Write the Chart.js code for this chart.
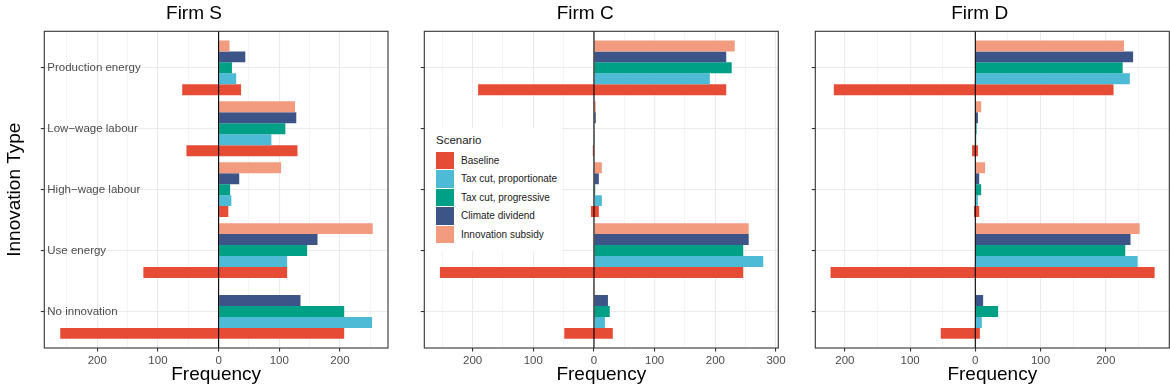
<!DOCTYPE html>
<html>
<head>
<meta charset="utf-8">
<script src="https://cdn.jsdelivr.net/npm/chart.js@4.4.1/dist/chart.umd.min.js"></script>
<style>
  body { margin: 0; background: #fff; }
  #wrap { position: relative; width: 1170px; height: 390px; overflow: hidden; font-family: "Liberation Sans", Arial, sans-serif; }
  #wrap canvas { position: absolute; top: 0; }
  #legend { position: absolute; left: 427px; top: 128px; width: 135px; height: 123px; background: #fff; z-index: 2; }
  #legend .ttl { position: absolute; left: 9px; top: 6px; font-size: 11.5px; color: #1a1a1a; }
  #legend .key { position: absolute; left: 9px; width: 18px; height: 17.6px; }
  #legend .lab { position: absolute; left: 34px; font-size: 10px; color: #1a1a1a; line-height: 18px; white-space: nowrap; }
</style>
</head>
<body>
<div id="wrap">
  <canvas id="firmS" width="392" height="390" style="left:0px"></canvas>
  <canvas id="firmC" width="398" height="390" style="left:392px"></canvas>
  <canvas id="firmD" width="380" height="390" style="left:790px"></canvas>
  <div id="legend"></div>
</div>
<script>
// categories, top to bottom
const categories = ['Production energy', 'Low\u2212wage labour', 'High\u2212wage labour', 'Use energy', 'No innovation'];
const scenarios = ['Baseline', 'Tax cut, proportionate', 'Tax cut, progressive', 'Climate dividend', 'Innovation subsidy'];
const scenarioColors = ['#E64B35', '#4DBBD5', '#00A087', '#3C5488', '#F39B7F'];

// Firm S
const sBaselineLeft = [-60, -53, 0, -124, -261];
const sBaseline = [37, 130, 16, 113, 207];
const sTaxProp = [29, 87, 21, 113, 253];
const sTaxProg = [22, 110, 19, 146, 207];
const sClimate = [44, 128, 34, 163, 135];
const sSubsidy = [18, 126, 103, 254, 0];

// Firm C
const cBaselineLeft = [-191, -2, -5, -254, -49];
const cBaseline = [218, 0, 8, 246, 31];
const cTaxProp = [191, 0.5, 13, 279, 18];
const cTaxProg = [227, 1, 2, 246, 26];
const cClimate = [218, 3, 8, 255, 23];
const cSubsidy = [232, 3, 13, 255, 0.5];

// Firm D
const dBaselineLeft = [-217, -5, -2, -222, -53];
const dBaseline = [212, 4, 6, 275, 7];
const dTaxProp = [237, 1.5, 4, 249, 10];
const dTaxProg = [226, 2, 9, 230, 35];
const dClimate = [242, 4, 6, 238, 12];
const dSubsidy = [228, 9, 15, 252, 0];

Chart.defaults.font.family = '"Liberation Sans", Arial, sans-serif';

// frame + zero line drawn over the bars
const panelDeco = {
  id: 'panelDeco',
  afterDatasetsDraw(chart) {
    const { ctx, chartArea: a, scales } = chart;
    const x0 = scales.x.getPixelForValue(0);
    ctx.save();
    ctx.strokeStyle = '#000';
    ctx.lineWidth = 1.1;
    ctx.beginPath();
    ctx.moveTo(x0, a.top);
    ctx.lineTo(x0, a.bottom);
    ctx.stroke();
    ctx.strokeStyle = '#333';
    ctx.lineWidth = 1.1;
    ctx.strokeRect(a.left, a.top, a.right - a.left, a.bottom - a.top);
    ctx.restore();
  }
};

function bars(values) {
  return values.map((v, i) => ({ x: v, y: i }));
}

function makePanel(id, title, s, opt) {
  // dataset order = top to bottom inside a group
  const datasets = [
    { label: scenarios[4], data: bars(s.subsidy), backgroundColor: scenarioColors[4] },
    { label: scenarios[3], data: bars(s.climate), backgroundColor: scenarioColors[3] },
    { label: scenarios[2], data: bars(s.taxProg), backgroundColor: scenarioColors[2] },
    { label: scenarios[1], data: bars(s.taxProp), backgroundColor: scenarioColors[1] },
    { label: scenarios[0], data: s.baseline.map((v, i) => ({ x: [s.baselineLeft[i], v], y: i })), backgroundColor: scenarioColors[0] }
  ];
  return new Chart(document.getElementById(id), {
    type: 'bar',
    data: { datasets },
    plugins: [panelDeco],
    options: {
      indexAxis: 'y',
      responsive: false,
      animation: false,
      devicePixelRatio: 1,
      layout: { padding: { left: 0, right: opt.padRight, top: 0, bottom: 0 } },
      datasets: { bar: { categoryPercentage: 0.9, barPercentage: 1, borderWidth: 0 } },
      plugins: {
        legend: { display: false },
        tooltip: { enabled: false },
        title: {
          display: true, text: title, color: '#000',
          font: { size: 19, weight: 'normal' },
          padding: { top: 2.7, bottom: 5.8 }
        }
      },
      scales: {
        x: {
          type: 'linear', min: opt.min, max: opt.max,
          afterBuildTicks(scale) {
            const t = [];
            for (let v = Math.ceil(opt.min / 50) * 50; v <= opt.max; v += 50) t.push({ value: v });
            scale.ticks = t;
          },
          afterFit(scale) { scale.height = 42; },
          ticks: {
            autoSkip: false, maxRotation: 0, padding: 2, color: '#4D4D4D',
            font: { size: 11.5 },
            callback: (v) => (v % 100 === 0 ? String(Math.abs(v)) : '')
          },
          grid: {
            color: '#EBEBEB',
            lineWidth: (c) => (c.tick && c.tick.value % 100 === 0 ? 1.1 : 0.55),
            tickColor: (c) => (c.tick && c.tick.value % 100 === 0 ? '#333' : 'rgba(0,0,0,0)'),
            tickLength: 3.5, tickWidth: 1.1
          },
          border: { display: false },
          title: {
            display: true, text: 'Frequency', color: '#000',
            font: { size: 19 }, padding: { top: 0, bottom: 4.2 }
          }
        },
        y: {
          type: 'linear', min: -0.6, max: 4.6, reverse: true, offset: false,
          afterBuildTicks(scale) { scale.ticks = categories.map((c, i) => ({ value: i })); },
          afterFit(scale) { scale.width = opt.yWidth; },
          ticks: {
            display: opt.labels, mirror: true, padding: 3, color: '#4D4D4D',
            font: { size: 11.5 },
            callback: (v) => categories[v]
          },
          grid: { offset: false, color: '#EBEBEB', lineWidth: 1.1, tickColor: '#333', tickLength: 3.5, tickWidth: 1.1 },
          border: { display: false },
          title: {
            display: opt.labels, text: 'Innovation Type', color: '#000',
            font: { size: 19 }, padding: { top: 3 }
          }
        }
      }
    }
  });
}

makePanel('firmS', 'Firm S',
  { baselineLeft: sBaselineLeft, baseline: sBaseline, taxProp: sTaxProp, taxProg: sTaxProg, climate: sClimate, subsidy: sSubsidy },
  { min: -287.3, max: 279.2, yWidth: 44.3, padRight: 4, labels: true });
makePanel('firmC', 'Firm C',
  { baselineLeft: cBaselineLeft, baseline: cBaseline, taxProp: cTaxProp, taxProg: cTaxProg, climate: cClimate, subsidy: cSubsidy },
  { min: -279.7, max: 303.8, yWidth: 32.3, padRight: 11.7, labels: false });
makePanel('firmD', 'Firm D',
  { baselineLeft: dBaselineLeft, baseline: dBaseline, taxProp: dTaxProp, taxProg: dTaxProg, climate: dClimate, subsidy: dSubsidy },
  { min: -245.4, max: 297.5, yWidth: 25.3, padRight: 0.7, labels: false });

// legend inside Firm C panel
const legend = document.getElementById('legend');
legend.innerHTML = '<div class="ttl">Scenario</div>' + scenarios.map((name, i) => {
  const top = 23.7 + i * 18.5;
  return '<div class="key" style="top:' + top + 'px;background:' + scenarioColors[i] + '"></div>' +
    '<div class="lab" style="top:' + top + 'px">' + name + '</div>';
}).join('');
</script>
</body>
</html>
